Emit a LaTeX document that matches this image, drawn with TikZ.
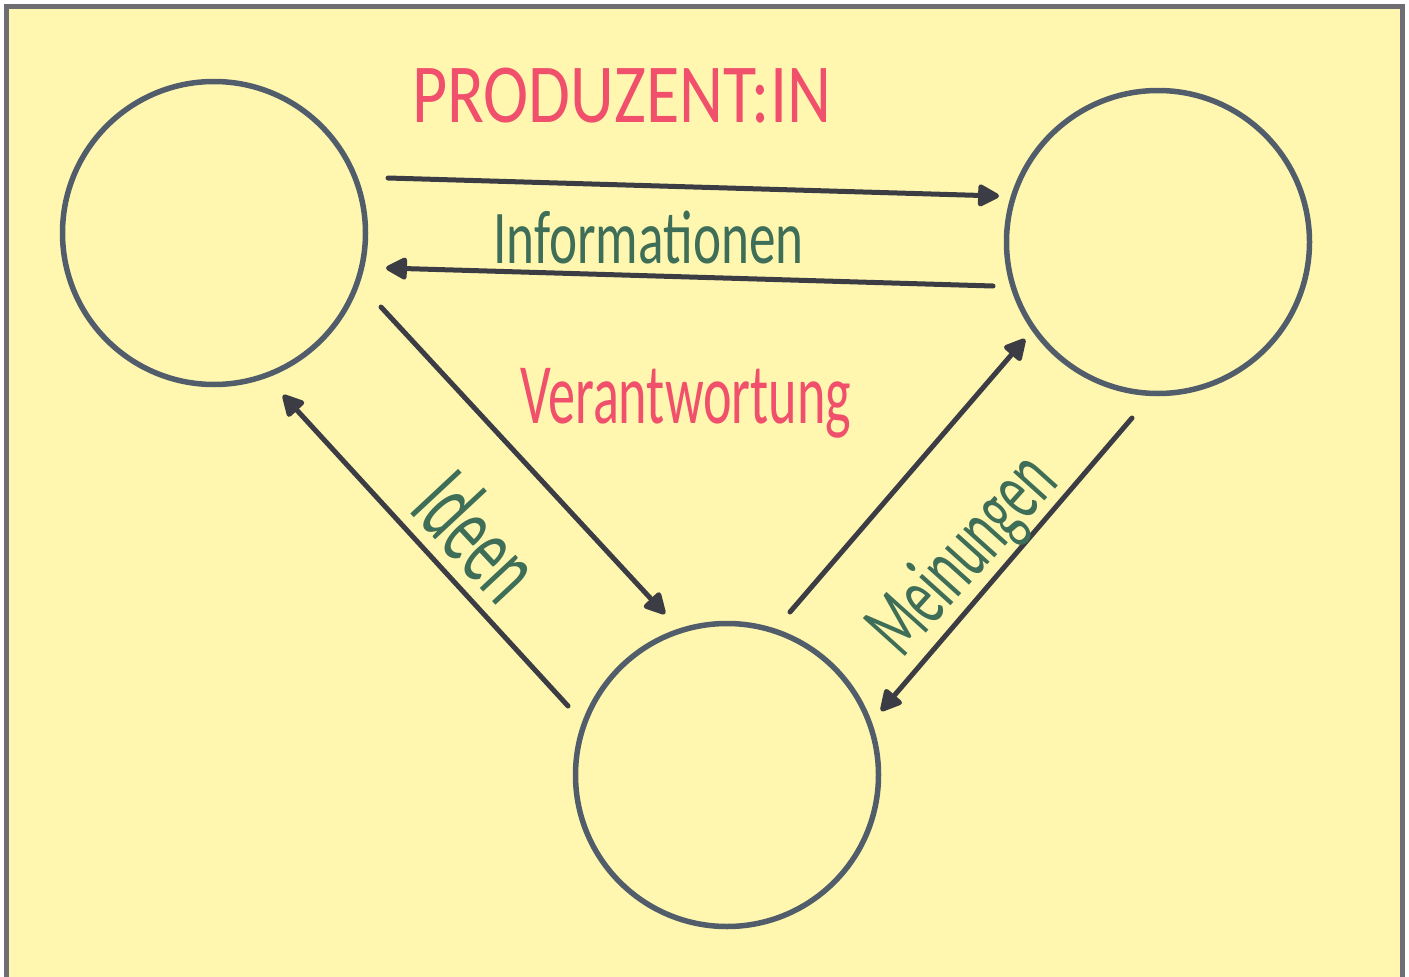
\documentclass[tikz,border=0pt]{standalone}
\usepackage{fontspec}
\setmainfont{Carlito}
\usetikzlibrary{arrows.meta}
\definecolor{paper}{HTML}{FFF7B0}
\definecolor{frame}{HTML}{6D6D73}
\definecolor{ring}{HTML}{515D6A}
\definecolor{ink}{HTML}{3C3C44}
\definecolor{redink}{HTML}{F0506B}
\definecolor{greenink}{HTML}{3E6E57}
\begin{document}
\begin{tikzpicture}[x=1pt,y=-1pt,
  ringnode/.style={circle,draw=ring,line width=5.5pt,minimum size=303pt,inner sep=0pt},
  flow/.style={draw=ink,line width=5pt,line cap=round,-{Triangle[length=24pt,width=24pt,round]}},
  redlabel/.style={text=redink,inner sep=0pt},
  greenlabel/.style={text=greenink,inner sep=0pt}]
\useasboundingbox (0,0) rectangle (1409,977);
\fill[white] (0,0) rectangle (1409,977);
\begin{scope}
\clip (0,0) rectangle (1409,977);
\fill[paper] (6.5,6.5) rectangle (1402.5,1000);
\draw[frame,line width=5pt] (6.5,6.5) rectangle (1402.5,1000);
\end{scope}
% circles
\node[ringnode] (a) at (214,233) {};
\node[ringnode] (b) at (1158,242) {};
\node[ringnode] (c) at (727,775) {};
% connector end points
\coordinate (ab1) at (388,178);
\coordinate (ab2) at (999,196);
\coordinate (ba1) at (993,286);
\coordinate (ba2) at (386,268);
\coordinate (ac1) at (381,307);
\coordinate (ac2) at (665,614);
\coordinate (ca1) at (568,706);
\coordinate (ca2) at (283,395);
\coordinate (cb1) at (790,612);
\coordinate (cb2) at (1025,339);
\coordinate (bc1) at (1132,418);
\coordinate (bc2) at (881,711);
% connectors
\draw[flow] (ab1) -- (ab2);
\draw[flow] (ba1) -- (ba2);
\draw[flow] (ac1) -- (ac2);
\draw[flow] (ca1) -- (ca2);
\draw[flow] (cb1) -- (cb2);
\draw[flow] (bc1) -- (bc2);
% labels
\node[redlabel,anchor=base west] (lprod) at (412,122) {\fontsize{84}{84}\selectfont\scalebox{0.81}[1]{PRODUZENT:IN}};
\node[greenlabel,anchor=base west] (linfo) at (493,263) {\fontsize{76}{76}\selectfont\scalebox{0.70}[1]{Informationen}};
\node[redlabel,anchor=base west] (lver) at (520,423) {\fontsize{86}{86}\selectfont\scalebox{0.63}[1]{Verantwortung}};
\node[greenlabel,anchor=base west,rotate=-47] (lide) at (407,510) {\fontsize{102}{102}\selectfont\scalebox{0.57}[1]{Ideen}};
\node[greenlabel,anchor=base west,rotate=48] (lmei) at (902,660) {\fontsize{88}{88}\selectfont\scalebox{0.58}[1]{Meinungen}};
\end{tikzpicture}
\end{document}
